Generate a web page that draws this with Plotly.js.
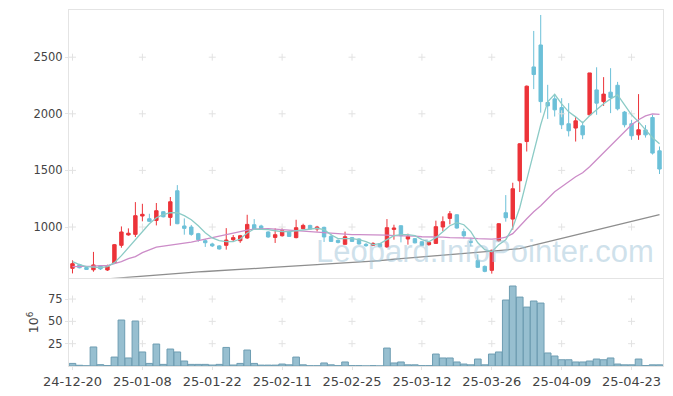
<!DOCTYPE html>
<html><head><meta charset="utf-8">
<script src="https://cdn.plot.ly/plotly-3.0.1.min.js"></script>
<style>html,body{margin:0;padding:0;background:#fff}#c{width:673px;height:396px}</style>
</head><body><div id="c"></div>
<script>
const dates = ["24-12-20","24-12-23","24-12-24","24-12-26","24-12-27","24-12-30","25-01-02","25-01-03","25-01-06","25-01-07",
"25-01-08","25-01-09","25-01-10","25-01-13","25-01-14","25-01-15","25-01-16","25-01-17","25-01-20","25-01-21",
"25-01-22","25-01-23","25-01-24","25-01-31","25-02-03","25-02-04","25-02-05","25-02-06","25-02-07","25-02-10",
"25-02-11","25-02-12","25-02-13","25-02-14","25-02-17","25-02-18","25-02-19","25-02-20","25-02-21","25-02-24",
"25-02-25","25-02-26","25-02-27","25-02-28","25-03-04","25-03-05","25-03-06","25-03-07","25-03-10","25-03-11",
"25-03-12","25-03-13","25-03-14","25-03-17","25-03-18","25-03-19","25-03-20","25-03-21","25-03-24","25-03-25",
"25-03-26","25-03-27","25-03-28","25-03-31","25-04-01","25-04-02","25-04-03","25-04-04","25-04-07","25-04-08",
"25-04-09","25-04-10","25-04-11","25-04-14","25-04-15","25-04-16","25-04-17","25-04-18","25-04-21","25-04-22",
"25-04-23","25-04-24","25-04-25","25-04-28","25-04-29"];

const open  = [635,667,642,622,656,620,682,838,930,935, 1097,1073,1058,1135,1085,1320,1009,1000,941,879,
 850,833,838,888,879,903,1020,1009,956,908, 923,961,906,985,1014,982,997,917,882,847,
 906,894,847,838,853,824,979,1011,894,897, 870,844,855,1000,1076,1108,959,870,703,652,
 617,879,1126,1070,1408,1755,2414,2608,2100,2132, 2055,1912,1874,1894,1991,2211,2108,2191,2252,2015,
 1912,1814,1858,1967,1673];
const high  = [705,675,648,780,662,667,850,1005,988,1220, 1205,1117,1212,1140,1265,1370,1076,1018,948,894,
 861,840,990,929,930,1108,1070,1020,962,988, 990,967,1064,1029,1020,1010,1003,938,890,959,
 912,900,858,865,858,1070,1020,1016,941,903, 875,870,1056,1094,1141,1114,985,905,758,660,
 800,1035,1282,1391,1740,2250,2732,2873,2256,2174, 2138,2094,1971,1932,2361,2411,2324,2403,2282,2025,
 1947,2174,1900,1991,1711];
const low   = [590,635,620,605,620,612,676,817,923,912, 1050,1045,1014,1085,1011,1025,932,923,870,824,
 823,800,800,870,860,895,975,976,905,859, 915,912,900,980,978,960,868,868,855,845,
 868,845,825,835,820,815,888,864,844,855, 833,835,850,965,1023,985,900,830,640,600,
 588,870,1047,976,1309,1667,2218,2010,1955,1976, 1865,1800,1755,1776,1985,1991,2070,2006,2030,1880,
 1770,1770,1790,1640,1468];
const close = [676,640,625,665,630,652,844,956,945,1100, 1112,1050,1144,1090,1223,1029,988,935,888,861,
 833,806,885,906,923,1023,982,982,912,932, 967,917,994,1014,982,1000,912,873,864,914,
 873,850,835,855,826,994,991,923,917,860, 838,864,1003,1047,1117,991,923,866,644,608,
 794,1029,1082,1338,1735,2244,2347,2108,2070,2035, 1903,1850,1938,1814,2361,2094,2174,2144,2044,1903,
 1806,1859,1814,1653,1512];

const ma5 = [694,667,650,645,641,650,685,747,817,888, 959,1029,1082,1109,1126,1126,1100,1064,1011,950,
 903,879,870,870,894,947,982,982,976,967, 959,959,967,976,985,989,976,932,897,897,
 897,888,870,844,853,888,923,932,932,923, 888,870,906,959,1011,1038,1020,959,861,800,
 782,844,888,994,1170,1417,1664,1903,2106,2172, 2088,2017,1973,1920,1982,2035,2088,2132,2167,2079,
 1991,1929,1859,1788,1735];
const ma20 = [650,650,650,654,659,659,676,694,720,738, 773,800,822,831,839,848,857,866,879,892,
 906,919,936,950,963,972,981,985,985,981, 976,972,967,963,959,954,950,945,941,936,
 932,932,932,928,928,928,923,923,919,919, 914,914,910,910,906,906,901,901,897,892,
 892,897,910,941,1011,1073,1135,1188,1250,1311, 1356,1400,1444,1479,1532,1594,1656,1717,1779,1841,
 1903,1947,1982,2000,1995];
const ma120 = [518,523,528,532,537,542,546,551,556,561, 565,570,575,579,584,589,593,598,603,607,
 610,613,618,621,625,629,633,637,641,644, 649,652,656,660,664,668,672,675,680,683,
 687,691,695,699,703,711,715,720,725,730, 734,740,744,749,754,759,763,769,773,778,
 783,788,793,798,808,824,839,855,870,886, 902,917,933,948,963,979,994,1010,1025,1041,
 1055,1068,1082,1096,1110];

const volume = [2.9,0.8,0.2,21.3,1.5,0.5,10,51.5,9,50.4, 15.7,2.9,24.6,1.8,19,15.7,5.6,1.8,1.8,1.8,
 1.1,1.8,20.8,1.1,2.9,17.9,2.9,1.0,1.0,1.0, 2.2,1.3,10,1.3,0.3,0.3,3.4,1.3,0.4,4.5,
 0.4,0.4,0.1,0.4,0.1,20.1,3.4,4.5,1.3,1.3, 0.4,0.4,13.4,9,9,4.5,2.2,1.3,7.8,1.3,
 13.4,15.7,73.9,89.6,77.2,66,72.8,70.5,14.6,11.2, 7,7,4.5,4.5,5.6,7.8,7,9,2.2,1.3,
 1.3,7.8,0.5,1.3,1.3];

const priceTicks = [1000,1500,2000,2500];
const volTicks = [25,50,75];
const xTicks = dates.filter((d,i)=>i%10===0);

const gridX = [], gridY = [], gridX2 = [], gridY2 = [];
xTicks.forEach(x=>{ priceTicks.forEach(y=>{gridX.push(x);gridY.push(y);});
                    volTicks.forEach(y=>{gridX2.push(x);gridY2.push(y);}); });

const crossMarker = {symbol:'cross-thin', size:5, line:{color:'#e2e2e2', width:1}, color:'#e2e2e2'};

const traces = [
 {type:'scatter', mode:'markers', x:gridX, y:gridY, xaxis:'x', yaxis:'y', marker:crossMarker, hoverinfo:'skip', showlegend:false},
 {type:'scatter', mode:'markers', x:gridX2, y:gridY2, xaxis:'x2', yaxis:'y2', marker:crossMarker, hoverinfo:'skip', showlegend:false},
 {type:'scatter', mode:'lines', x:dates, y:ma120, xaxis:'x', yaxis:'y', line:{color:'#8e8e8e', width:1.3}, showlegend:false},
 {type:'scatter', mode:'lines', x:dates, y:ma20, xaxis:'x', yaxis:'y', line:{color:'#cc8cc8', width:1.3}, showlegend:false},
 {type:'scatter', mode:'lines', x:dates, y:ma5, xaxis:'x', yaxis:'y', line:{color:'#8ccbc6', width:1.3}, showlegend:false},
 {type:'candlestick', x:dates, open:open, high:high, low:low, close:close, xaxis:'x', yaxis:'y',
  increasing:{line:{color:'#ec3339', width:1}, fillcolor:'#ec3339'},
  decreasing:{line:{color:'#6cc0d8', width:1}, fillcolor:'#6cc0d8'},
  whiskerwidth:0, showlegend:false},
 {type:'bar', x:dates, y:volume, xaxis:'x2', yaxis:'y2',
  marker:{color:'#97bfd0', line:{color:'#6e9db2', width:1}}, showlegend:false}
];

const tickFont = {family:'DejaVu Sans, sans-serif', size:11.5, color:'#444'};
const layout = {
 width:673, height:396,
 margin:{l:69, r:10, t:10, b:30},
 paper_bgcolor:'#ffffff', plot_bgcolor:'#ffffff',
 bargap:0.05,
 xaxis:{type:'category', domain:[0,1], anchor:'y', categoryorder:'array', categoryarray:dates,
   range:[-0.5, dates.length-0.5],
   showticklabels:false, showgrid:false, zeroline:false,
   showline:true, mirror:true, linecolor:'#e4e4e4', linewidth:1,
   rangeslider:{visible:false}, tickvals:xTicks, ticks:''},
 xaxis2:{type:'category', domain:[0,1], anchor:'y2', matches:'x', categoryorder:'array', categoryarray:dates,
   tickvals:xTicks, ticktext:xTicks, showgrid:false, zeroline:false,
   showline:true, mirror:true, linecolor:'#e4e4e4', linewidth:1,
   ticks:'outside', ticklen:3, tickcolor:'#e4e4e4',
   tickfont:{family:'DejaVu Sans, sans-serif', size:13, color:'#444'}, tickangle:0},
 yaxis:{domain:[0.248,1], range:[552,2917], tickvals:priceTicks, showgrid:false, zeroline:false,
   showline:true, mirror:true, linecolor:'#e4e4e4', linewidth:1,
   ticks:'outside', ticklen:3, tickcolor:'#e4e4e4', tickfont:tickFont},
 yaxis2:{domain:[0,0.245], range:[0,97.7], tickvals:volTicks, showgrid:false, zeroline:false,
   showline:true, mirror:true, linecolor:'#e4e4e4', linewidth:1,
   ticks:'outside', ticklen:3, tickcolor:'#e4e4e4', tickfont:tickFont,
   title:{text:'10<sup>6</sup>', font:{family:'DejaVu Sans, sans-serif', size:12.5, color:'#444'}, standoff:6}},
 annotations:[{xref:'paper', yref:'paper', x:0.70, y:0.322, xanchor:'center', yanchor:'middle', showarrow:false,
   text:'Leopard.InfoPointer.com', font:{family:'Liberation Sans, Arial, sans-serif', size:31, color:'rgba(160,196,216,0.5)'}}]
};

Plotly.newPlot('c', traces, layout, {staticPlot:true, displayModeBar:false});
</script>
</body></html>
